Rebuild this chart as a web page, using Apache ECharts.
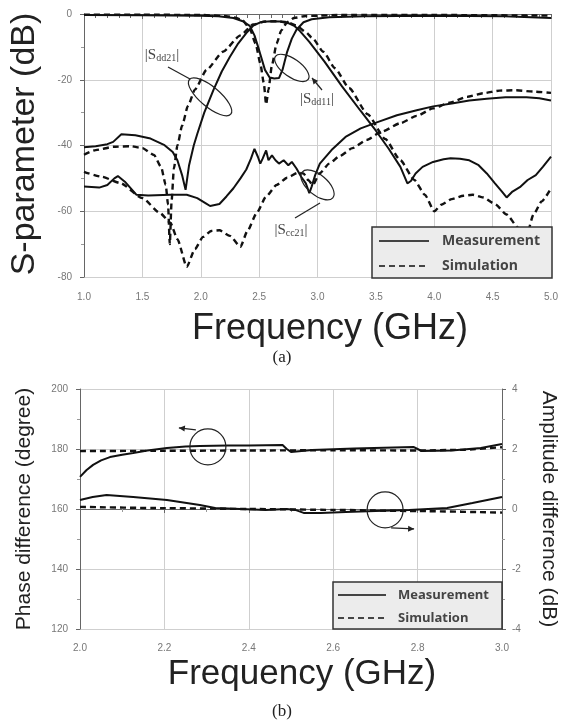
<!DOCTYPE html>
<html><head><meta charset="utf-8">
<script src="https://cdn.jsdelivr.net/npm/echarts@6/dist/echarts.min.js"></script>
<style>html,body{margin:0;padding:0;background:#fff}#c{width:564px;height:728px}</style>
</head><body><div id="c"></div>
<script>
// ===== (a) S-parameters =====
const sdd11MeasF = [1.0, 1.5, 2.0, 2.15, 2.28, 2.36, 2.42, 2.46, 2.50, 2.55, 2.59, 2.63, 2.67, 2.70, 2.74, 2.78, 2.82, 2.88, 2.95, 3.1, 3.4, 4.0, 4.6, 5.0];
const sdd11MeasV = [-0.3, -0.4, -0.5, -0.7, -1.2, -2.2, -3.6, -6.5, -11, -17, -19.3, -19.6, -19.5, -17, -11.5, -7.5, -4.8, -2.5, -1.6, -1.0, -0.7, -0.5, -0.7, -1.2];
const sdd11SimF = [1.0, 1.5, 2.0, 2.2, 2.3, 2.36, 2.42, 2.47, 2.51, 2.54, 2.56, 2.58, 2.61, 2.65, 2.69, 2.74, 2.80, 2.90, 3.2, 4.0, 5.0];
const sdd11SimV = [-0.2, -0.2, -0.3, -0.6, -1.1, -2.0, -4.5, -9, -15, -21, -27.5, -23, -15.5, -9, -5, -2.5, -1.2, -0.6, -0.3, -0.3, -0.5];

const sdd21MeasF = [1.0, 1.1, 1.2, 1.25, 1.32, 1.44, 1.57, 1.69, 1.76, 1.80, 1.84, 1.87, 1.90, 1.94, 1.97, 2.03, 2.11, 2.18, 2.25, 2.32, 2.39, 2.45, 2.52, 2.60, 2.68, 2.75, 2.80, 2.85, 2.93, 3.06, 3.21, 3.37, 3.50, 3.61, 3.71, 3.77, 3.80, 3.84, 3.90, 3.99, 4.08, 4.14, 4.22, 4.30, 4.38, 4.45, 4.52, 4.58, 4.62, 4.67, 4.74, 4.80, 4.87, 4.93, 5.0];
const sdd21MeasV = [-40.5, -40.2, -39.6, -38.9, -36.6, -36.9, -37.9, -39.9, -42, -44.5, -49, -53.5, -46, -40, -36.5, -30, -23, -17.5, -13, -9, -5.8, -3.5, -2.4, -2.2, -2.3, -2.8, -3.6, -5.2, -8.5, -14.5, -22, -29.5, -35.5, -41, -46.5, -51.5, -50.8, -48.5, -46.5, -45, -44.2, -43.9, -44, -44.5, -46, -48.5, -51.5, -54, -55.8, -54, -52.5, -50.5, -49, -46.5, -43.4];
const sdd21SimF = [1.0, 1.1, 1.25, 1.4, 1.5, 1.6, 1.66, 1.70, 1.72, 1.735, 1.75, 1.77, 1.80, 1.84, 1.89, 1.95, 2.05, 2.19, 2.34, 2.45, 2.55, 2.65, 2.74, 2.82, 2.90, 2.96, 3.05, 3.15, 3.27, 3.43, 3.58, 3.71, 3.83, 3.92, 4.0, 4.06, 4.15, 4.25, 4.33, 4.42, 4.52, 4.62, 4.72, 4.79, 4.85, 4.92, 5.0];
const sdd21SimV = [-42.8, -41.4, -40.4, -40.2, -40.8, -42.9, -46.5, -52, -58, -70, -57, -47, -40, -34, -28, -23, -17, -11.5, -6.5, -3.2, -2.3, -2.2, -2.5, -3.5, -5.5, -7.5, -11.5, -16.5, -22.5, -30.5, -38, -44.5, -50.5, -55, -60, -58, -56.3, -55.3, -55, -55.8, -57.8, -61, -65, -67.5, -61, -57, -53];

const scc21MeasF = [1.0, 1.13, 1.2, 1.26, 1.29, 1.35, 1.45, 1.55, 1.74, 1.88, 1.97, 2.04, 2.08, 2.16, 2.22, 2.28, 2.34, 2.39, 2.43, 2.46, 2.49, 2.51, 2.53, 2.56, 2.58, 2.61, 2.64, 2.67, 2.71, 2.75, 2.78, 2.82, 2.86, 2.90, 2.93, 2.95, 2.98, 3.02, 3.12, 3.24, 3.37, 3.52, 3.68, 3.85, 3.99, 4.15, 4.30, 4.45, 4.61, 4.79, 4.9, 5.0];
const scc21MeasV = [-52.5, -52.8, -52, -50, -49.3, -51, -55, -55.2, -55, -55, -56, -57.5, -58.4, -57.8, -55.5, -53, -50, -47.3, -44, -41, -43.5, -45.5, -44, -41.5, -44.5, -43, -44.5, -45.5, -44.5, -46, -45, -47, -49.5, -51.5, -54.5, -52.5, -49, -45.5, -41.4, -37.4, -34.8, -32.8, -30.8, -29.3, -28.1, -27.2, -26.3, -25.8, -25.3, -25.3, -25.6, -26.3];
const scc21SimF = [1.0, 1.15, 1.31, 1.5, 1.65, 1.74, 1.80, 1.88, 1.95, 2.02, 2.09, 2.16, 2.25, 2.34, 2.40, 2.48, 2.56, 2.65, 2.74, 2.83, 2.88, 2.92, 2.96, 3.02, 3.10, 3.19, 3.30, 3.42, 3.55, 3.71, 3.85, 3.99, 4.13, 4.28, 4.42, 4.56, 4.70, 4.85, 5.0];
const scc21SimV = [-48, -49.5, -51.4, -56, -60.5, -63.5, -68.5, -76.9, -71.5, -67.8, -66, -65.8, -67.5, -70.8, -66, -60.5, -55.5, -52, -49.8, -48.3, -48.5, -50.5, -52, -48.4, -45.5, -43.2, -40.8, -38.3, -35.8, -33.2, -31, -28.7, -27, -25.2, -24.1, -23.3, -23.2, -23.6, -24];

// ===== (b) phase / amplitude difference =====
const phaseMeasF = [2.0, 2.015, 2.031, 2.05, 2.071, 2.1, 2.126, 2.16, 2.206, 2.25, 2.284, 2.35, 2.40, 2.48, 2.49, 2.50, 2.55, 2.65, 2.79, 2.80, 2.81, 2.88, 2.95, 3.0];
const phaseMeasV = [170.7, 172.9, 174.7, 176.2, 177.3, 178.1, 178.7, 179.5, 180.3, 180.8, 181.0, 181.2, 181.2, 181.3, 180.0, 179.0, 179.7, 180.2, 180.7, 180.0, 179.3, 179.5, 180.3, 181.7];
const phaseSimF = [2.0, 2.2, 2.4, 2.6, 2.8, 2.9, 3.0];
const phaseSimV = [179.3, 179.4, 179.5, 179.6, 179.5, 179.7, 180.6];
const ampMeasF = [2.0, 2.03, 2.063, 2.126, 2.206, 2.284, 2.32, 2.44, 2.49, 2.51, 2.53, 2.57, 2.63, 2.70, 2.78, 2.87, 2.93, 3.0];
const ampMeasV = [0.3, 0.4, 0.47, 0.4, 0.3, 0.13, 0.03, -0.03, 0, -0.03, -0.13, -0.13, -0.1, -0.07, -0.03, 0.03, 0.2, 0.4];
const ampSimF = [2.0, 2.2, 2.4, 2.6, 2.8, 3.0];
const ampSimV = [0.07, 0.03, 0.0, -0.03, -0.07, -0.12];

const xTicksA = [1.0, 1.5, 2.0, 2.5, 3.0, 3.5, 4.0, 4.5, 5.0];
const xTicksB = [2.0, 2.2, 2.4, 2.6, 2.8, 3.0];

function pairs(f, v) { return f.map((x, i) => [x, v[i]]); }

const TXT = 'Liberation Sans, Arial, sans-serif';
const tickLabel = { color: '#777', fontSize: 10, fontFamily: TXT };
const gridLine = { show: true, lineStyle: { color: '#cfcfcf', width: 1 } };
const axLine = { show: true, lineStyle: { color: '#666', width: 1 } };

function meas(name, data, xi, yi) {
  return { name, type: 'line', xAxisIndex: xi, yAxisIndex: yi, data, showSymbol: false,
    lineStyle: { color: '#111', width: 2 }, z: 3 };
}
function sim(name, data, xi, yi) {
  return { name, type: 'line', xAxisIndex: xi, yAxisIndex: yi, data, showSymbol: false,
    smooth: 0.2, smoothMonotone: 'x',
    lineStyle: { color: '#111', width: 2.4, type: [6, 4] }, z: 3 };
}

const chart = echarts.init(document.getElementById('c'), null, { renderer: 'canvas' });
const option = {
  animation: false,
  backgroundColor: '#fff',
  grid: [
    { left: 84, top: 14, width: 467, height: 263 },
    { left: 80, top: 389, width: 422, height: 240 }
  ],
  xAxis: [
    { gridIndex: 0, type: 'value', min: 1, max: 5, interval: 0.5,
      axisLine: axLine, axisTick: { show: true, length: 5, lineStyle: { color: '#666' } },
      minorTick: { show: true, splitNumber: 5, length: 4, lineStyle: { color: '#666' } },
      splitLine: gridLine,
      axisLabel: Object.assign({ margin: 15, formatter: v => xTicksA.includes(+v.toFixed(1)) ? v.toFixed(1) : '' }, tickLabel) },
    { gridIndex: 1, type: 'value', min: 2, max: 3, interval: 0.2,
      axisLine: axLine, axisTick: { show: true, length: 4, lineStyle: { color: '#666' } },
      minorTick: { show: true, splitNumber: 2, length: 3, lineStyle: { color: '#999' } },
      splitLine: gridLine,
      axisLabel: Object.assign({ margin: 14, formatter: v => xTicksB.includes(+v.toFixed(1)) ? v.toFixed(1) : '' }, tickLabel) }
  ],
  yAxis: [
    { gridIndex: 0, type: 'value', min: -80, max: 0, interval: 20,
      axisLine: axLine, axisTick: { show: true, length: 4, lineStyle: { color: '#666' } },
      minorTick: { show: true, splitNumber: 2, length: 3, lineStyle: { color: '#999' } },
      splitLine: gridLine, axisLabel: Object.assign({ margin: 12 }, tickLabel) },
    { gridIndex: 1, type: 'value', min: 120, max: 200, interval: 20, position: 'left',
      axisLine: axLine, axisTick: { show: true, length: 4, lineStyle: { color: '#666' } },
      minorTick: { show: true, splitNumber: 2, length: 3, lineStyle: { color: '#999' } },
      splitLine: gridLine, axisLabel: Object.assign({ margin: 12 }, tickLabel) },
    { gridIndex: 1, type: 'value', min: -4, max: 4, interval: 2, position: 'right',
      axisLine: axLine, axisTick: { show: true, length: 4, lineStyle: { color: '#666' } },
      minorTick: { show: true, splitNumber: 2, length: 3, lineStyle: { color: '#999' } },
      splitLine: { show: false }, axisLabel: Object.assign({ margin: 10 }, tickLabel) }
  ],
  series: [
    meas('|Sdd11| Measurement', pairs(sdd11MeasF, sdd11MeasV), 0, 0),
    sim('|Sdd11| Simulation', pairs(sdd11SimF, sdd11SimV), 0, 0),
    meas('|Sdd21| Measurement', pairs(sdd21MeasF, sdd21MeasV), 0, 0),
    sim('|Sdd21| Simulation', pairs(sdd21SimF, sdd21SimV), 0, 0),
    meas('|Scc21| Measurement', pairs(scc21MeasF, scc21MeasV), 0, 0),
    sim('|Scc21| Simulation', pairs(scc21SimF, scc21SimV), 0, 0),
    meas('Phase Measurement', pairs(phaseMeasF, phaseMeasV), 1, 1),
    sim('Phase Simulation', pairs(phaseSimF, phaseSimV), 1, 1),
    meas('Amplitude Measurement', pairs(ampMeasF, ampMeasV), 1, 2),
    sim('Amplitude Simulation', pairs(ampSimF, ampSimV), 1, 2)
  ]
};
chart.setOption(option);

// ---- annotations & titles ----
const P = (xi, yi, p) => chart.convertToPixel({ xAxisIndex: xi, yAxisIndex: yi }, p);
const deg = a => a * Math.PI / 180;
const annStroke = { stroke: '#222', lineWidth: 1.2, fill: null };
function ellipse(c, rx, ry, ang) {
  return { type: 'ellipse', x: c[0], y: c[1], rotation: -deg(ang), shape: { cx: 0, cy: 0, rx, ry }, style: annStroke, z: 50 };
}
function circle(c, r) {
  return { type: 'circle', shape: { cx: c[0], cy: c[1], r }, style: annStroke, z: 50 };
}
function arrow(p0, p1, head) {
  const els = [{ type: 'line', shape: { x1: p0[0], y1: p0[1], x2: p1[0], y2: p1[1] }, style: { stroke: '#222', lineWidth: 1.2 }, z: 50 }];
  if (head) {
    const a = Math.atan2(p1[1] - p0[1], p1[0] - p0[0]), L = 6, W = 3;
    const bx = p1[0] - L * Math.cos(a), by = p1[1] - L * Math.sin(a);
    els.push({ type: 'polygon', shape: { points: [p1, [bx + W * Math.sin(a), by - W * Math.cos(a)], [bx - W * Math.sin(a), by + W * Math.cos(a)]] }, style: { fill: '#222' }, z: 50 });
  }
  return els;
}
function sLabel(x, y, sub) {
  return { type: 'text', x, y, z: 50, style: {
    text: '|S{s|' + sub + '}|', fontFamily: 'Liberation Serif, Times New Roman, serif', fontSize: 15, fill: '#444',
    align: 'center', verticalAlign: 'middle',
    rich: { s: { fontSize: 10, fontFamily: 'Liberation Serif, serif', fill: '#444', padding: [6, 0, 0, 0] } } } };
}
function legend(x, y, w, h, l1, l2, lineX0, lineX1, textX, fs) {
  return [
    { type: 'rect', shape: { x, y, width: w, height: h }, style: { fill: '#ececec', stroke: '#333', lineWidth: 1.5 }, z: 60 },
    { type: 'line', shape: { x1: lineX0, y1: l1, x2: lineX1, y2: l1 }, style: { stroke: '#444', lineWidth: 2.2 }, z: 61 },
    { type: 'line', shape: { x1: lineX0, y1: l2, x2: lineX1, y2: l2 }, style: { stroke: '#444', lineWidth: 2.2, lineDash: [6, 4] }, z: 61 },
    { type: 'text', x: textX, y: l1, style: { text: 'Measurement', fontFamily: 'Open Sans, sans-serif', fontWeight: 'bold', fontSize: fs, fill: '#444', verticalAlign: 'middle' }, z: 61 },
    { type: 'text', x: textX, y: l2, style: { text: 'Simulation', fontFamily: 'Open Sans, sans-serif', fontWeight: 'bold', fontSize: fs, fill: '#444', verticalAlign: 'middle' }, z: 61 }
  ];
}
function title(text, x, y, size, rot, fam) {
  return { type: 'text', x, y, rotation: rot ? deg(rot) : 0, z: 70, style: {
    text, fontFamily: fam || TXT, fontSize: size, fill: '#222', align: 'center', verticalAlign: 'middle' } };
}

const g = [];
// top annotations
g.push(sLabel(162, 55, 'dd21'));
g.push(...arrow([168, 67], [190, 79], false));
g.push(ellipse(P(0, 0, [2.08, -25.2]), 27, 10, 40));
g.push(ellipse(P(0, 0, [2.78, -16.4]), 20, 9, 35));
g.push(sLabel(317, 99, 'dd11'));
g.push(...arrow([322, 90], [312, 78], true));
g.push(ellipse(P(0, 0, [3.0, -52]), 20, 10, 40));
g.push(sLabel(291, 230, 'cc21'));
g.push(...arrow([295, 218], [320, 203], false));
// bottom annotations
const c1 = P(1, 1, [2.303, 180.7]);
g.push(circle(c1, 18));
g.push(...arrow([c1[0] - 12, c1[1] - 17], [c1[0] - 29, c1[1] - 19], true));
const c2 = P(1, 2, [2.723, -0.03]);
g.push(circle(c2, 18));
g.push(...arrow([c2[0] + 6, c2[1] + 18], [c2[0] + 29, c2[1] + 19], true));
// legends
g.push(...legend(372, 227, 180, 51, 241, 266, 379, 429, 442, 14));
g.push(...legend(333, 582, 169, 47, 595, 618, 338, 386, 398, 13));
// titles
g.push(title('S-parameter (dB)', 25, 144, 34, 90));
g.push(title('Frequency (GHz)', 330, 329, 36));
g.push(title('(a)', 282, 358, 17, 0, 'Liberation Serif, Times New Roman, serif'));
g.push(title('Phase difference (degree)', 24, 509, 21, 90));
g.push(title('Amplitude difference (dB)', 549, 509, 21, -90));
g.push(title('Frequency (GHz)', 302, 674, 35));
g.push(title('(b)', 282, 712, 17, 0, 'Liberation Serif, Times New Roman, serif'));

chart.setOption({ graphic: { elements: g } });
</script>
</body></html>
